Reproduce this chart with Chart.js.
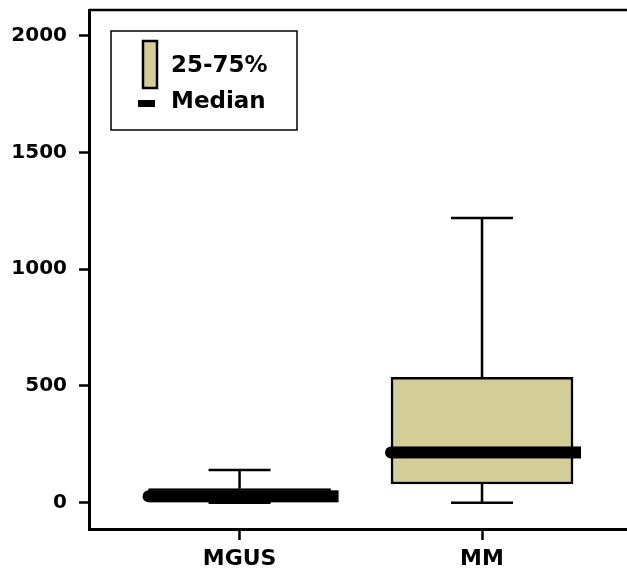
<!DOCTYPE html>
<html>
<head>
<meta charset="utf-8">
<script src="https://cdn.jsdelivr.net/npm/chart.js@4/dist/chart.umd.min.js"></script>
<style>
    html, body { margin: 0; padding: 0; background: #fff; }
    #wrap { width: 627px; height: 572px; position: relative; }
</style>
</head>
<body>
<div id="wrap"><canvas id="boxChart"></canvas></div>
<script>
// --- Data ---
const categories = ['MGUS', 'MM'];
const minValues = [0, 0];
const q1Values = [3, 80];
const medianValues = [27, 215];
const q3Values = [60, 537];
const maxValues = [140, 1220];
const yTicks = [0, 500, 1000, 1500, 2000];
const legendLabels = ['25-75%', 'Median'];

const boxFill = '#d3ce98';
const ink = '#000';

// Whiskers, caps, medians, top frame and legend
const boxPlotExtras = {
    id: 'boxPlotExtras',
    afterDatasetsDraw(chart) {
        const ctx = chart.ctx;
        const x = chart.scales.x;
        const y = chart.scales.y;
        const area = chart.chartArea;
        const half = 91;
        const capHalf = 31;

        ctx.save();
        ctx.strokeStyle = ink;
        ctx.fillStyle = ink;

        categories.forEach((c, i) => {
            const cx = x.getPixelForValue(i);
            const yMin = y.getPixelForValue(minValues[i]);
            const yQ1 = y.getPixelForValue(q1Values[i]);
            const yQ3 = y.getPixelForValue(q3Values[i]);
            const yMax = y.getPixelForValue(maxValues[i]);
            const yMed = y.getPixelForValue(medianValues[i]);

            // whiskers
            ctx.lineWidth = 2.5;
            ctx.beginPath();
            ctx.moveTo(cx, yQ3); ctx.lineTo(cx, yMax);
            ctx.moveTo(cx - capHalf, yMax); ctx.lineTo(cx + capHalf, yMax);
            ctx.moveTo(cx, yQ1); ctx.lineTo(cx, yMin);
            ctx.moveTo(cx - capHalf, yMin); ctx.lineTo(cx + capHalf, yMin);
            ctx.stroke();

            // median: rounded left end, square right end
            const left = cx - half;
            const right = cx + half + 8;
            ctx.fillRect(left, yMed - 6, right - left, 12);
            ctx.beginPath();
            ctx.arc(left, yMed, 6, 0, Math.PI * 2);
            ctx.fill();
        });

        // top frame line
        ctx.lineWidth = 2.5;
        ctx.beginPath();
        ctx.moveTo(area.left, area.top);
        ctx.lineTo(chart.width, area.top);
        ctx.stroke();

        // legend
        ctx.lineWidth = 1.5;
        ctx.strokeRect(111, 31, 186, 99);
        ctx.fillStyle = boxFill;
        ctx.fillRect(143, 41, 14, 47);
        ctx.strokeStyle = ink;
        ctx.lineWidth = 2.5;
        ctx.strokeRect(143, 41, 14, 47);
        ctx.fillStyle = ink;
        ctx.fillRect(138, 100, 17, 7);
        ctx.font = 'bold 23px "DejaVu Sans"';
        ctx.textBaseline = 'alphabetic';
        ctx.textAlign = 'left';
        ctx.fillText(legendLabels[0], 171, 72);
        ctx.fillText(legendLabels[1], 171, 108);

        ctx.restore();
    }
};

new Chart(document.getElementById('boxChart').getContext('2d'), {
    type: 'bar',
    data: {
        datasets: [{
            label: legendLabels[0],
            data: categories.map((c, i) => ({ x: i, y: [q1Values[i], q3Values[i]] })),
            backgroundColor: boxFill,
            borderColor: ink,
            borderWidth: 2.5,
            borderSkipped: false,
            barThickness: 182
        }]
    },
    options: {
        responsive: true,
        maintainAspectRatio: false,
        animation: false,
        layout: { padding: { top: 10, right: 0, left: 0, bottom: 0 } },
        plugins: {
            legend: { display: false },
            tooltip: { enabled: false }
        },
        scales: {
            x: {
                type: 'linear',
                offset: false,
                min: -0.621,
                max: 1.598,
                afterBuildTicks: s => { s.ticks = categories.map((c, i) => ({ value: i })); },
                afterFit: s => {
                    s.height = 43;
                    s.paddingLeft = 0; s.paddingRight = 0;
                },
                grid: { offset: false, drawOnChartArea: false, drawTicks: true, tickLength: 11, tickWidth: 2.5, tickColor: ink },
                border: { display: true, color: ink, width: 3 },
                ticks: {
                    color: ink,
                    padding: 6,
                    maxRotation: 0,
                    font: { family: 'DejaVu Sans', weight: 'bold', size: 22 },
                    callback: v => categories[v]
                }
            },
            y: {
                type: 'linear',
                min: -113,
                max: 2111,
                afterBuildTicks: s => { s.ticks = yTicks.map(v => ({ value: v })); },
                afterFit: s => {
                    s.width = 89;
                    s.paddingTop = 0; s.paddingBottom = 0;
                },
                grid: { drawOnChartArea: false, drawTicks: true, tickLength: 10, tickWidth: 2.5, tickColor: ink },
                border: { display: true, color: ink, width: 3 },
                ticks: {
                    color: ink,
                    padding: 12,
                    font: { family: 'DejaVu Sans', weight: 'bold', size: 20 },
                    callback: v => String(v)
                }
            }
        }
    },
    plugins: [boxPlotExtras]
});
</script>
</body>
</html>
